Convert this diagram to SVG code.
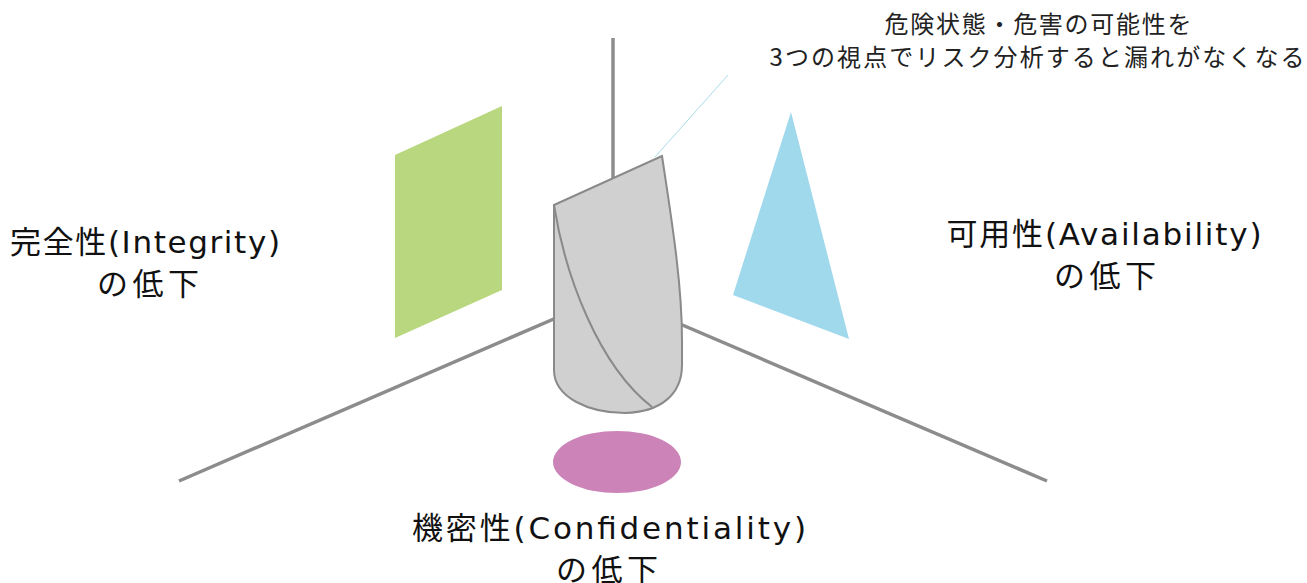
<svg xmlns="http://www.w3.org/2000/svg" width="1307" height="583" viewBox="0 0 1307 583">
  <style>
    .axis { stroke: #8c8c8c; stroke-width: 3.5; fill: none; stroke-linecap: butt; }
    .label { font-family: "DejaVu Sans", "Noto Sans CJK JP", sans-serif; font-size: 31px; fill: #111; }
    .note { font-family: "Noto Sans CJK JP", sans-serif; font-size: 24px; fill: #222; }
    .shape-edge { stroke: #8a8a8a; stroke-width: 2; }
  </style>
  <rect width="1307" height="583" fill="#ffffff"/>

  <!-- three axes meeting behind the central body -->
  <g id="axes">
    <line class="axis" x1="613" y1="38" x2="613" y2="200"/>
    <line class="axis" x1="179" y1="481" x2="556" y2="318"/>
    <line class="axis" x1="680" y1="324" x2="1047" y2="481"/>
  </g>

  <!-- integrity plane -->
  <g id="integrity-plane">
    <polygon points="395,155 502,106 502,290 395,338" fill="#b8d77e"/>
  </g>

  <!-- availability plane -->
  <g id="availability-plane">
    <polygon points="791,112 733,295 849,339" fill="#a0d8ec"/>
  </g>

  <!-- confidentiality plane -->
  <g id="confidentiality-plane">
    <ellipse cx="617" cy="462" rx="64" ry="31" fill="#cc84b8"/>
  </g>

  <!-- leader from the body to the note -->
  <g id="connectors">
    <line x1="655" y1="157" x2="728" y2="75" stroke="#a8dce8" stroke-width="1"/>
  </g>

  <!-- central body (cut cylinder) -->
  <g id="body">
    <path class="shape-edge" d="M554,205 L662,156 C670,210 682,280 682,340 L682,365 C682,395 660,412 625,413 C590,413 554,398 554,370 Z" fill="#d0d0d0"/>
    <path class="shape-edge" d="M554,205 C565,275 598,365 652,407" fill="none"/>
  </g>

  <!-- note -->
  <g id="note">
    <text class="note" x="1038" y="33" text-anchor="middle" textLength="307" lengthAdjust="spacing">危険状態・危害の可能性を</text>
    <text class="note" x="1037" y="66" text-anchor="middle" textLength="535" lengthAdjust="spacing">3つの視点でリスク分析すると漏れがなくなる</text>
  </g>

  <g id="integrity-label">
    <text class="label" x="145" y="253" text-anchor="middle" textLength="270" lengthAdjust="spacing">完全性(Integrity)</text>
    <text class="label" x="148" y="295" text-anchor="middle" textLength="102" lengthAdjust="spacing">の低下</text>
  </g>

  <g id="availability-label">
    <text class="label" x="1104" y="245" text-anchor="middle" textLength="315" lengthAdjust="spacing">可用性(Availability)</text>
    <text class="label" x="1105" y="287" text-anchor="middle" textLength="102" lengthAdjust="spacing">の低下</text>
  </g>

  <g id="confidentiality-label">
    <text class="label" x="609" y="539" text-anchor="middle" textLength="394" lengthAdjust="spacing">機密性(Confidentiality)</text>
    <text class="label" x="607" y="581" text-anchor="middle" textLength="102" lengthAdjust="spacing">の低下</text>
  </g>
</svg>
